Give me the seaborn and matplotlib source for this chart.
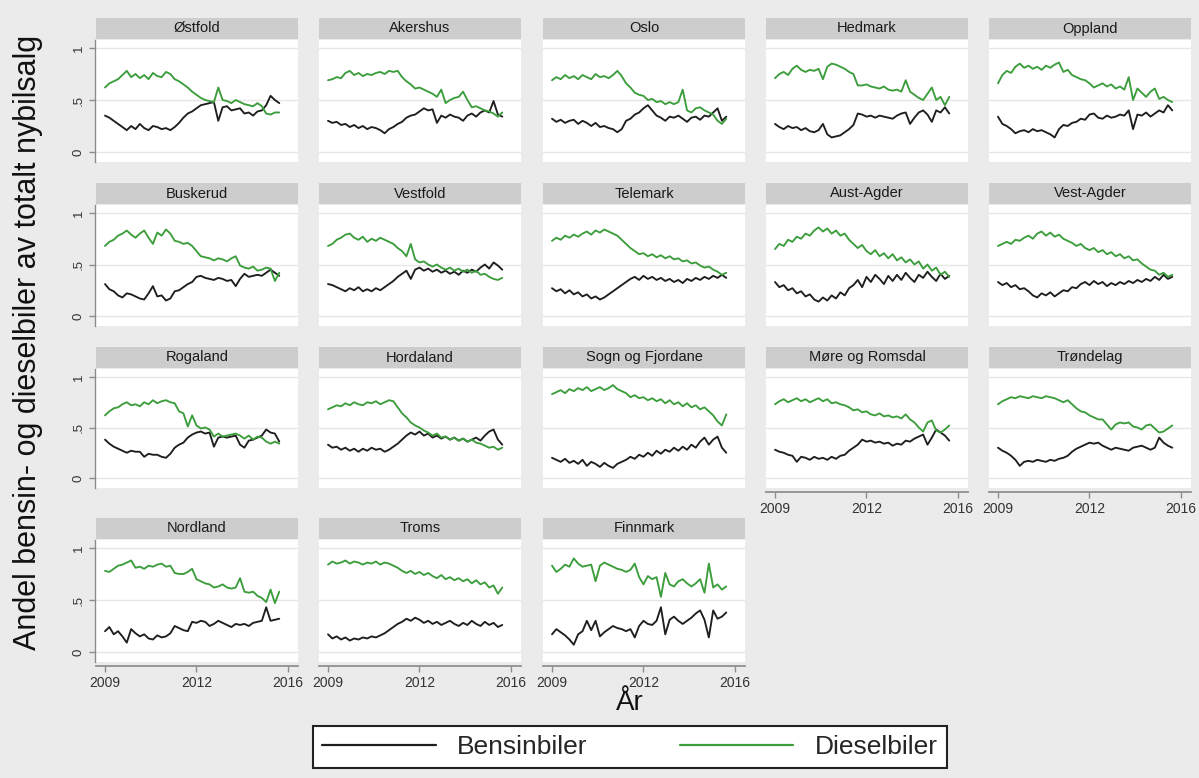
import numpy as np
import pandas as pd
import matplotlib
matplotlib.use("Agg")
import matplotlib.pyplot as plt
from matplotlib.lines import Line2D
import seaborn as sns

# Share of new-car sales, petrol (bensin) and diesel, per county, in percent.
# One value every second month, January 2009 to September 2015.
ostfold_bensin = [35, 33, 30, 27, 24, 21, 25, 22, 27, 23, 21, 25, 24, 22, 23, 21, 24, 28, 33, 37, 39, 42, 45, 46, 47, 48, 30, 43, 44, 40, 41, 42, 37, 38, 35, 39, 40, 45, 54, 50, 47]
ostfold_diesel = [62, 66, 68, 70, 74, 78, 72, 75, 71, 74, 70, 76, 73, 72, 77, 75, 70, 68, 65, 62, 58, 55, 52, 50, 49, 48, 62, 50, 49, 47, 50, 48, 46, 45, 44, 47, 44, 37, 36, 38, 38]
akershus_bensin = [30, 28, 29, 26, 27, 24, 26, 23, 25, 22, 24, 23, 21, 18, 22, 24, 27, 29, 33, 35, 36, 39, 42, 40, 41, 28, 35, 33, 36, 34, 33, 30, 35, 37, 34, 38, 40, 38, 49, 36, 34]
akershus_diesel = [69, 70, 72, 71, 76, 78, 74, 76, 73, 75, 74, 76, 77, 75, 78, 77, 78, 72, 68, 65, 61, 62, 60, 58, 56, 53, 60, 47, 50, 52, 53, 58, 50, 43, 44, 42, 40, 39, 37, 34, 38]
oslo_bensin = [32, 29, 31, 28, 30, 31, 27, 30, 28, 25, 28, 24, 25, 23, 22, 19, 22, 30, 32, 36, 38, 42, 45, 40, 35, 33, 30, 34, 33, 35, 32, 29, 33, 34, 31, 35, 34, 38, 42, 30, 34]
oslo_diesel = [69, 72, 70, 74, 71, 73, 70, 74, 72, 70, 75, 72, 73, 71, 74, 78, 73, 66, 62, 57, 55, 54, 50, 51, 48, 49, 46, 48, 46, 48, 60, 40, 38, 42, 43, 40, 38, 36, 30, 27, 32]
hedmark_bensin = [27, 24, 22, 25, 23, 24, 21, 23, 20, 19, 21, 27, 17, 14, 15, 16, 19, 22, 26, 37, 36, 34, 35, 33, 35, 34, 33, 32, 35, 37, 38, 27, 33, 38, 40, 36, 29, 40, 38, 43, 37]
hedmark_diesel = [71, 75, 77, 74, 80, 83, 79, 77, 79, 78, 80, 70, 82, 85, 84, 82, 80, 77, 75, 64, 64, 65, 63, 62, 61, 63, 60, 59, 60, 58, 69, 58, 55, 52, 50, 56, 62, 50, 53, 45, 53]
oppland_bensin = [34, 27, 25, 22, 18, 20, 21, 19, 22, 20, 21, 19, 17, 14, 22, 26, 25, 28, 29, 32, 31, 36, 37, 33, 32, 35, 33, 34, 36, 35, 40, 22, 36, 35, 38, 34, 37, 40, 38, 45, 40]
oppland_diesel = [66, 74, 78, 76, 82, 85, 81, 83, 80, 82, 79, 83, 81, 84, 86, 77, 79, 74, 72, 70, 69, 66, 62, 64, 66, 63, 65, 61, 63, 60, 72, 50, 61, 57, 53, 58, 61, 51, 53, 50, 48]
buskerud_bensin = [31, 26, 24, 20, 18, 22, 21, 19, 17, 16, 22, 29, 19, 20, 15, 17, 24, 25, 28, 31, 33, 38, 39, 37, 36, 35, 37, 36, 34, 35, 29, 36, 41, 38, 39, 40, 39, 42, 45, 42, 39]
buskerud_diesel = [68, 72, 74, 78, 80, 83, 79, 76, 80, 83, 76, 70, 81, 78, 84, 80, 73, 72, 70, 71, 68, 63, 58, 57, 56, 54, 56, 55, 53, 56, 58, 49, 47, 46, 48, 44, 45, 47, 46, 34, 42]
vestfold_bensin = [31, 30, 28, 26, 24, 27, 25, 28, 24, 26, 24, 27, 25, 28, 31, 34, 38, 41, 44, 36, 45, 47, 44, 46, 43, 45, 42, 44, 41, 43, 40, 44, 42, 45, 43, 47, 50, 46, 52, 49, 45]
vestfold_diesel = [68, 70, 74, 76, 79, 80, 76, 74, 77, 72, 75, 73, 76, 74, 72, 70, 66, 63, 58, 70, 55, 52, 53, 50, 48, 50, 47, 45, 47, 44, 46, 43, 45, 42, 44, 40, 41, 38, 36, 35, 37]
telemark_bensin = [27, 24, 26, 22, 25, 21, 23, 19, 21, 17, 19, 16, 18, 21, 24, 27, 30, 33, 36, 38, 35, 39, 36, 38, 35, 37, 34, 36, 33, 35, 32, 36, 34, 37, 35, 38, 36, 39, 37, 40, 37]
telemark_diesel = [73, 76, 74, 78, 76, 79, 77, 80, 82, 79, 83, 81, 84, 82, 80, 78, 74, 70, 66, 63, 60, 61, 58, 60, 57, 59, 56, 58, 55, 56, 53, 54, 51, 52, 49, 47, 48, 45, 43, 40, 42]
austagder_bensin = [33, 28, 30, 25, 27, 22, 24, 19, 21, 16, 14, 18, 15, 20, 17, 23, 20, 27, 30, 35, 28, 38, 33, 40, 36, 31, 39, 34, 40, 35, 42, 37, 33, 40, 37, 43, 38, 34, 41, 36, 39]
austagder_diesel = [65, 70, 68, 74, 72, 77, 75, 80, 78, 83, 86, 82, 85, 80, 83, 78, 80, 74, 70, 66, 69, 63, 60, 64, 58, 61, 56, 60, 54, 57, 52, 55, 50, 53, 46, 50, 44, 47, 40, 43, 38]
vestagder_bensin = [33, 30, 32, 28, 30, 26, 27, 24, 20, 18, 22, 20, 23, 19, 22, 25, 24, 28, 27, 31, 33, 30, 34, 31, 33, 29, 32, 30, 33, 31, 34, 32, 35, 33, 36, 34, 38, 35, 40, 36, 38]
vestagder_diesel = [68, 70, 72, 70, 74, 73, 76, 78, 75, 80, 82, 78, 81, 77, 79, 75, 73, 71, 68, 70, 66, 64, 66, 62, 64, 60, 62, 58, 60, 56, 58, 54, 55, 51, 48, 45, 44, 40, 42, 38, 40]
rogaland_bensin = [38, 34, 31, 29, 27, 25, 27, 26, 26, 21, 24, 23, 23, 21, 20, 24, 30, 33, 35, 40, 43, 45, 46, 44, 45, 31, 40, 41, 40, 41, 42, 33, 30, 37, 38, 40, 42, 48, 45, 44, 36]
rogaland_diesel = [62, 66, 69, 70, 73, 75, 72, 73, 71, 75, 73, 77, 74, 76, 77, 75, 74, 66, 64, 51, 62, 52, 49, 50, 48, 41, 44, 41, 42, 43, 44, 42, 39, 42, 38, 41, 40, 36, 34, 36, 34]
hordaland_bensin = [33, 30, 31, 28, 30, 27, 29, 26, 29, 27, 30, 28, 29, 26, 28, 31, 34, 38, 42, 45, 43, 46, 42, 44, 40, 42, 39, 41, 38, 40, 37, 39, 36, 38, 40, 37, 42, 46, 48, 38, 33]
hordaland_diesel = [68, 70, 72, 71, 74, 72, 75, 73, 72, 75, 74, 76, 73, 75, 77, 76, 70, 64, 60, 55, 52, 50, 47, 45, 42, 44, 40, 41, 38, 40, 37, 39, 36, 38, 35, 34, 32, 30, 31, 28, 30]
sogn_bensin = [20, 18, 16, 19, 15, 17, 14, 18, 12, 16, 14, 11, 15, 12, 10, 14, 16, 18, 21, 19, 23, 21, 25, 22, 27, 24, 28, 26, 30, 27, 31, 28, 33, 30, 36, 40, 33, 38, 41, 30, 25]
sogn_diesel = [83, 85, 87, 84, 88, 86, 89, 87, 90, 86, 88, 90, 87, 89, 92, 88, 86, 84, 80, 82, 79, 80, 77, 79, 76, 78, 74, 77, 73, 75, 71, 74, 70, 72, 68, 70, 66, 62, 56, 52, 63]
more_bensin = [28, 26, 25, 23, 22, 16, 21, 20, 18, 21, 19, 20, 18, 21, 19, 22, 23, 27, 30, 33, 38, 36, 37, 35, 36, 34, 35, 32, 34, 33, 37, 36, 39, 41, 43, 33, 40, 48, 45, 42, 37]
more_diesel = [73, 76, 78, 75, 77, 79, 76, 78, 75, 77, 79, 76, 78, 74, 75, 73, 72, 70, 67, 68, 65, 66, 63, 62, 64, 61, 62, 60, 61, 59, 63, 58, 55, 50, 46, 55, 57, 47, 45, 48, 52]
trondelag_bensin = [30, 27, 25, 22, 18, 12, 16, 17, 16, 18, 17, 16, 18, 17, 19, 20, 22, 26, 29, 31, 33, 35, 34, 35, 32, 30, 28, 30, 29, 28, 27, 30, 31, 32, 30, 28, 30, 40, 35, 32, 30]
trondelag_diesel = [73, 76, 78, 80, 79, 81, 80, 79, 81, 80, 79, 81, 80, 79, 77, 75, 77, 73, 69, 66, 65, 62, 60, 58, 58, 53, 48, 53, 55, 54, 55, 51, 50, 48, 52, 53, 49, 45, 46, 49, 52]
nordland_bensin = [20, 24, 17, 20, 15, 9, 22, 18, 15, 17, 13, 12, 16, 14, 15, 18, 25, 23, 21, 20, 29, 28, 30, 29, 25, 27, 30, 28, 26, 24, 27, 26, 27, 25, 28, 29, 30, 43, 30, 31, 32]
nordland_diesel = [78, 77, 80, 83, 84, 86, 88, 81, 82, 80, 83, 82, 84, 85, 82, 83, 76, 75, 75, 77, 80, 70, 68, 66, 65, 62, 63, 65, 62, 61, 62, 71, 58, 57, 58, 54, 52, 48, 60, 47, 58]
troms_bensin = [17, 13, 15, 12, 14, 11, 13, 12, 14, 13, 15, 14, 16, 18, 21, 24, 27, 29, 32, 30, 33, 31, 28, 30, 27, 29, 26, 28, 30, 27, 25, 28, 26, 30, 27, 25, 29, 26, 28, 24, 26]
troms_diesel = [84, 87, 85, 86, 88, 85, 87, 86, 84, 86, 85, 87, 84, 86, 85, 83, 81, 78, 76, 78, 75, 77, 74, 76, 73, 71, 74, 70, 72, 69, 71, 68, 70, 66, 69, 65, 67, 62, 64, 56, 62]
finnmark_bensin = [17, 22, 19, 16, 12, 7, 17, 20, 30, 21, 30, 15, 19, 22, 25, 23, 22, 20, 22, 14, 25, 30, 27, 26, 30, 43, 17, 31, 34, 30, 27, 30, 33, 37, 40, 31, 14, 40, 32, 34, 38]
finnmark_diesel = [83, 77, 80, 84, 82, 90, 85, 82, 83, 84, 68, 83, 86, 84, 82, 80, 79, 77, 79, 85, 72, 65, 73, 70, 72, 53, 76, 65, 63, 68, 70, 66, 63, 66, 70, 57, 85, 62, 65, 60, 63]

regions = ["Østfold", "Akershus", "Oslo", "Hedmark", "Oppland",
           "Buskerud", "Vestfold", "Telemark", "Aust-Agder", "Vest-Agder",
           "Rogaland", "Hordaland", "Sogn og Fjordane", "Møre og Romsdal", "Trøndelag",
           "Nordland", "Troms", "Finnmark"]
bensin_series = [ostfold_bensin, akershus_bensin, oslo_bensin, hedmark_bensin, oppland_bensin,
                 buskerud_bensin, vestfold_bensin, telemark_bensin, austagder_bensin, vestagder_bensin,
                 rogaland_bensin, hordaland_bensin, sogn_bensin, more_bensin, trondelag_bensin,
                 nordland_bensin, troms_bensin, finnmark_bensin]
diesel_series = [ostfold_diesel, akershus_diesel, oslo_diesel, hedmark_diesel, oppland_diesel,
                 buskerud_diesel, vestfold_diesel, telemark_diesel, austagder_diesel, vestagder_diesel,
                 rogaland_diesel, hordaland_diesel, sogn_diesel, more_diesel, trondelag_diesel,
                 nordland_diesel, troms_diesel, finnmark_diesel]

tick_pos = [2009, 2012.5, 2016]
tick_labels = ["2009", "2012", "2016"]
y_ticks = [0, 0.5, 1]
y_tick_labels = ["0", ".5", "1"]
series_names = ["Bensinbiler", "Dieselbiler"]

# month axis: every second month from Jan 2009
years = 2009 + np.arange(len(ostfold_bensin)) * 2 / 12

rows = []
for name, b, d in zip(regions, bensin_series, diesel_series):
    for yr, vb, vd in zip(years, b, d):
        rows.append((name, yr, series_names[0], vb / 100))
        rows.append((name, yr, series_names[1], vd / 100))
df = pd.DataFrame(rows, columns=["fylke", "year", "type", "share"])

sns.set_theme(style="white")
plt.rcParams["font.family"] = ["Liberation Sans", "DejaVu Sans"]

BLACK = "#1e1e1e"
GREEN = "#3c9d3c"
palette = {series_names[0]: BLACK, series_names[1]: GREEN}
AXIS_GRAY = "#8c8c8c"

W, H = 1199, 778
fig = plt.figure(figsize=(W / 100, H / 100), dpi=100, facecolor="#ebebeb")


def rect(x0, y0, w, h):
    """pixel box (top-left origin) -> figure fraction rect"""
    return [x0 / W, 1 - (y0 + h) / H, w / W, h / H]


col_left = [96, 319, 543, 766, 989]
row_px = [(152, 48), (316, 213), (478, 377), (652, 548)]  # pixel rows of y=0 and y=1
panel_w = 202
px_year = 26.14
pad_l, pad_top, pad_bot = 9, 8, 10

for k, name in enumerate(regions):
    r, c = divmod(k, 5)
    y0, y1 = row_px[r]
    sc = y0 - y1
    top = y1 - pad_top
    bot = y0 + pad_bot
    ax = fig.add_axes(rect(col_left[c], top, panel_w, bot - top))
    ax.set_facecolor("white")
    for yv in y_ticks:
        ax.axhline(yv, color="#e6e6e6", lw=1.0, zorder=0)

    sub = df[df["fylke"] == name]
    sns.lineplot(data=sub, x="year", y="share", hue="type", hue_order=series_names,
                 palette=palette, estimator=None, linewidth=1.35, legend=False, ax=ax)

    ax.set_xlim(2009 - pad_l / px_year, 2009 + (panel_w - pad_l) / px_year)
    ax.set_ylim(-pad_bot / sc, 1 + pad_top / sc)
    ax.set_xlabel("")
    ax.set_ylabel("")
    for s in ax.spines.values():
        s.set_visible(False)

    ax.set_yticks(y_ticks)
    if c == 0:
        ax.spines["left"].set_visible(True)
        ax.spines["left"].set_color(AXIS_GRAY)
        ax.spines["left"].set_linewidth(1.0)
        ax.spines["left"].set_position(("outward", 1))
        ax.set_yticklabels(y_tick_labels, rotation=90, va="center")
        ax.tick_params(axis="y", left=True, length=4, width=1, color=AXIS_GRAY,
                       labelsize=9.5, labelcolor="#333333", pad=3)
    else:
        ax.tick_params(axis="y", left=False, labelleft=False)

    has_x = (r == 3) or (r == 2 and c >= 3)
    ax.set_xticks(tick_pos)
    if has_x:
        ax.spines["bottom"].set_visible(True)
        ax.spines["bottom"].set_color(AXIS_GRAY)
        ax.spines["bottom"].set_position(("outward", 3))
        ax.set_xticklabels(tick_labels)
        ax.tick_params(axis="x", bottom=True, length=4, width=1, color=AXIS_GRAY,
                       labelsize=10, labelcolor="#333333", pad=3)
    else:
        ax.tick_params(axis="x", bottom=False, labelbottom=False)

    # county strip
    sax = fig.add_axes(rect(col_left[c], top - 22, panel_w, 21))
    sax.set_facecolor("#cdcdcd")
    sax.set_xticks([])
    sax.set_yticks([])
    for s in sax.spines.values():
        s.set_visible(False)
    sax.text(0.5, 0.5, name, ha="center", va="center", fontsize=10.5,
             color="#1a1a1a", transform=sax.transAxes)

fig.text(28 / W, 1 - 342 / H, "Andel bensin- og dieselbiler av totalt nybilsalg",
         rotation=90, ha="center", va="center", fontsize=22, color="#111111")
fig.text(630 / W, 1 - 703 / H, "År", ha="center", va="center", fontsize=20, color="#111111")

handles = [Line2D([], [], color=BLACK, lw=1.6), Line2D([], [], color=GREEN, lw=1.6)]
leg = fig.legend(handles, series_names, loc="center", bbox_to_anchor=(630 / W, 1 - 747 / H),
                 ncol=2, frameon=True, fancybox=False, edgecolor="#222222", facecolor="white",
                 framealpha=1, fontsize=19, handlelength=4.3, columnspacing=3.5,
                 handletextpad=0.8, borderpad=0.35)
leg.get_frame().set_linewidth(1.5)

fig.savefig("out.png", dpi=100, facecolor=fig.get_facecolor())
